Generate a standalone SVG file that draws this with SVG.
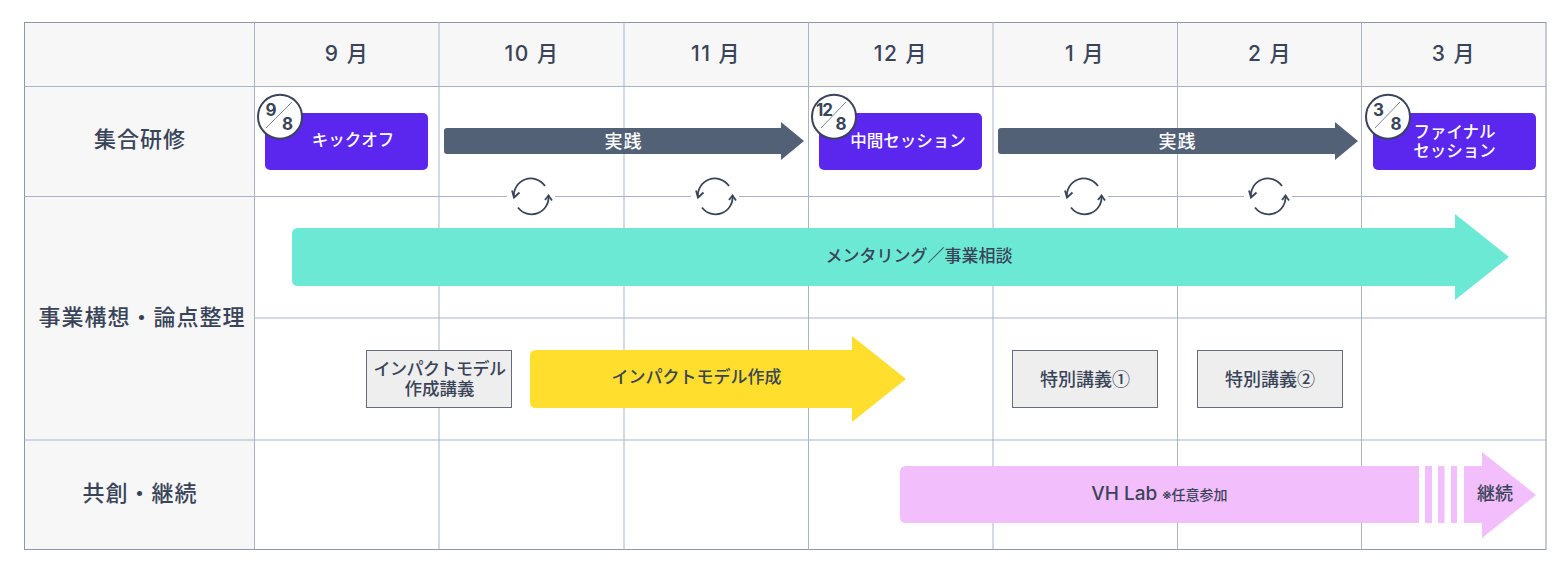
<svg xmlns="http://www.w3.org/2000/svg" width="1564" height="566" viewBox="0 0 1564 566">
<style>
text{font-family:"Inter","Noto Sans CJK JP","Noto Sans",sans-serif;text-anchor:middle;fill:#3a4458}
.grid{stroke:#a9b3c8;stroke-width:1;fill:none}
.hd{font-size:21px;font-weight:500;letter-spacing:1.5px}
.rw{font-size:22px;font-weight:500;letter-spacing:1px}
.w{fill:#fff;font-size:16.500px;font-weight:500}
.bar{font-size:17px;font-weight:500}
.box{fill:#eee;stroke:#666c7c;stroke-width:1}
.boxt{font-size:17px;font-weight:500}
.sp{font-size:18px;font-weight:500;font-family:"Noto Sans CJK JP",sans-serif}
.pur{fill:#5b27ee}
.bd{fill:#fff;stroke:#3a4458;stroke-width:2}
.sl{stroke:#7d8594;stroke-width:1}
.n{font-size:17px;font-weight:700}
.cy{fill:none;stroke:#3a4458;stroke-width:1.8}
</style>
<defs>
<g id="cycle">
<rect x="-24" y="-2" width="48" height="4" fill="#fff"/>
<path class="cy" d="M-17 1A17 17 0 0 1 14-10.500"/>
<path class="cy" d="M17.500-1A17 17 0 0 1-13 11"/>
<path class="cy" d="M-19-6L-17 1L-11.500-4"/>
<path class="cy" d="M21 4L17.500-1L14 3.500"/>
</g>
</defs>
<g id="grid">
<rect x="24.500" y="22.500" width="1521" height="64" fill="#f7f7f8"/>
<rect x="24.500" y="86.500" width="230" height="463" fill="#f7f7f8"/>
<rect class="grid" x="24.500" y="22.500" width="1521.500" height="527" style="stroke:#8d97a8"/>
<path class="grid" d="M24.500 86.500H1546M24.500 196.500H1546M254.500 318H1546M24.500 440H1546M254.500 22V549.500M439 22V549.500M624 22V549.500M808.500 22V549.500M993 22V549.500M1177.500 22V549.500M1361.500 22V549.500"/>
</g>
<g id="header">
<text class="hd" x="347" y="61">9 月</text>
<text class="hd" x="532" y="61">10 月</text>
<text class="hd" x="716" y="61">11 月</text>
<text class="hd" x="901" y="61">12 月</text>
<text class="hd" x="1085" y="61">1 月</text>
<text class="hd" x="1270" y="61">2 月</text>
<text class="hd" x="1454" y="61">3 月</text>
</g>
<g id="rows">
<text class="rw" x="140" y="147">集合研修</text>
<text class="rw" x="142" y="325">事業構想・論点整理</text>
<text class="rw" x="140" y="501">共創・継続</text>
</g>
<g id="connectors">
<path fill="#536177" d="M447 128H781V122L804 141L781 160V154H447Q444 154 444 151V131Q444 128 447 128Z"/>
<path fill="#536177" d="M1001 128H1335V122L1358 141L1335 160V154H1001Q998 154 998 151V131Q998 128 1001 128Z"/>
<use href="#cycle" x="531" y="196.500"/>
<use href="#cycle" x="715" y="196.500"/>
<use href="#cycle" x="1084" y="196.500"/>
<use href="#cycle" x="1268" y="196.500"/>
<path fill="#6ce9d4" d="M298 228H1455V214L1509 257L1455 300V286H298Q292 286 292 280V234Q292 228 298 228Z"/>
<path fill="#ffde2d" d="M536 350H852V336L906 379L852 422V408H536Q530 408 530 402V356Q530 350 536 350Z"/>
<path fill="#f2befc" d="M906 466H1419V523H906Q900 523 900 517V472Q900 466 906 466ZM1425 466H1432V523H1425ZM1438 466H1444.500V523H1438ZM1451 466H1457V523H1451ZM1464 466H1482V452L1536 495L1482 538V523H1464Z"/>
</g>
<g id="labels">
<text class="w" x="623.500" y="148" style="font-size:18px;letter-spacing:1px">実践</text>
<text class="w" x="1177.500" y="148" style="font-size:18px;letter-spacing:1px">実践</text>
<text class="bar" x="919" y="262">メンタリング／事業相談</text>
<text class="bar" x="696.500" y="383">インパクトモデル作成</text>
<text class="bar" x="1159.500" y="500"><tspan font-size="19">VH Lab</tspan> <tspan font-size="14">※任意参加</tspan></text>
<text class="bar" x="1495" y="499.500" style="font-size:18px">継続</text>
</g>
<g id="kickoff">
<rect class="pur" x="265" y="113" width="163" height="57" rx="5"/>
<text class="w" x="353" y="146">キックオフ</text>
<circle class="bd" cx="280" cy="116.700" r="22"/>
<path class="sl" d="M292 102L266 128"/>
<text class="n" x="271" y="116">9</text>
<text class="n" x="287.500" y="129.500">8</text>
</g>
<g id="midterm">
<rect class="pur" x="819" y="113" width="163" height="57" rx="5"/>
<text class="w" x="908" y="147">中間セッション</text>
<circle class="bd" cx="834" cy="116.700" r="22"/>
<path class="sl" d="M846 102L821 128"/>
<text class="n" x="824" y="116" letter-spacing="-1">12</text>
<text class="n" x="841" y="129.500">8</text>
</g>
<g id="final">
<rect class="pur" x="1373" y="113" width="163" height="57" rx="5"/>
<text class="w" x="1454.500" y="138">ファイナル</text>
<text class="w" x="1454.500" y="157">セッション</text>
<circle class="bd" cx="1388" cy="116.700" r="22"/>
<path class="sl" d="M1400 102L1375 128"/>
<text class="n" x="1378.500" y="116">3</text>
<text class="n" x="1396" y="129.500">8</text>
</g>
<g id="impact-lecture">
<rect class="box" x="366.500" y="350.500" width="145" height="57"/>
<text class="boxt" x="439.500" y="375" letter-spacing="-0.500">インパクトモデル</text>
<text class="boxt" x="439.500" y="395" style="font-size:17.500px">作成講義</text>
</g>
<g id="special-1">
<rect class="box" x="1012.500" y="350.500" width="145" height="57"/>
<text class="sp" x="1085" y="386">特別講義①</text>
</g>
<g id="special-2">
<rect class="box" x="1197.500" y="350.500" width="145" height="57"/>
<text class="sp" x="1270" y="386">特別講義②</text>
</g>
</svg>
